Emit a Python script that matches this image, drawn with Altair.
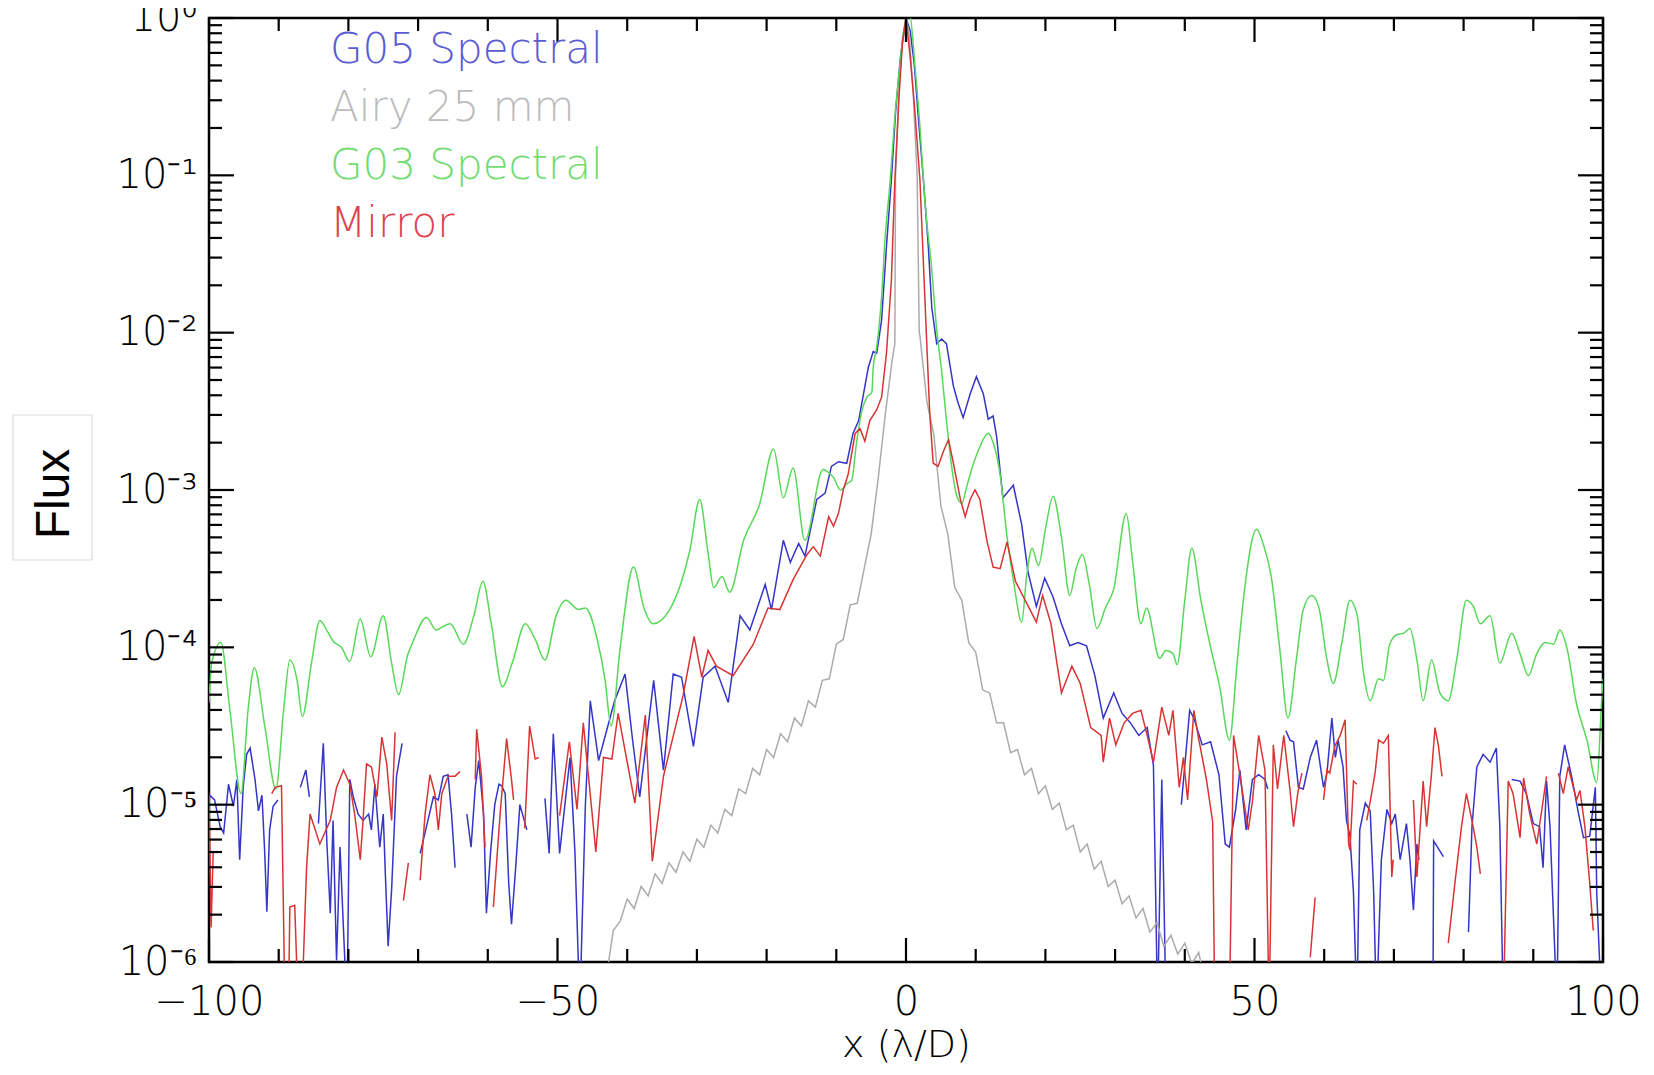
import altair as alt
import pandas as pd

W, H = 1394, 944

SERIES = ["G05 Spectral", "Airy 25 mm", "G03 Spectral", "Mirror"]
COLORS = ["#3535c8", "#ababab", "#58d858", "#d83434"]
TEXT_COLORS = ["#5b5bd2", "#bcbcbc", "#72dc72", "#dc4450"]

# readings: (x in lambda/D, log10 flux); None = gap in the curve
BLUE_PTS = [
    (-100.0, -5.0), (-99.9, -4.94), (-99.2, -4.97), (-98.4, -5.14), (-97.9, -5.18), (-97.2, -4.87),
    (-96.5, -5.01), (-96.0, -4.84), (-95.6, -5.35), (-95.1, -4.89), (-94.6, -4.68), (-94.1, -4.64),
    (-93.4, -4.84), (-92.9, -5.04), (-92.4, -4.94), (-92.0, -5.31), (-91.7, -5.68), (-91.3, -5.16),
    (-90.8, -5.01), (-90.1, -4.97), (-88.5, None), (-86.9, -4.89), (-86.1, -4.78), (-85.6, -4.95),
    (-85.0, None), (-84.3, -5.12), (-83.6, -4.61), (-83.1, -5.23), (-82.6, -5.69), (-82.2, -5.10),
    (-81.7, -5.99), (-81.2, -5.27), (-80.7, -5.80), (-80.2, -6.3), (-79.8, -4.84), (-79.3, -4.95),
    (-78.6, -5.06), (-77.9, -5.10), (-77.1, -5.06), (-76.7, -5.16), (-76.2, -4.87), (-75.5, -5.27),
    (-75.0, -5.06), (-74.7, -5.44), (-74.3, -5.90), (-73.8, -5.54), (-73.1, -4.82), (-72.3, -4.61),
    (-71.0, None), (-69.7, -5.31), (-68.8, -5.14), (-67.8, -4.95), (-67.1, -4.97), (-66.4, -4.82),
    (-65.7, -4.81), (-65.2, -5.06), (-64.7, -5.40), (-64.0, None), (-63.0, -5.06), (-62.4, -5.27),
    (-61.8, -4.89), (-61.3, -4.72), (-60.6, -5.06), (-60.2, -5.69), (-59.6, -5.3), (-59.0, -5.0),
    (-58.4, -4.87), (-58.0, -4.88), (-57.5, -4.93), (-57.0, -5.5), (-56.6, -5.76), (-56.0, -5.4),
    (-55.4, -5.0), (-54.4, -5.16), (-53.0, None), (-51.8, -4.96), (-51.2, -5.31), (-50.6, -4.55),
    (-49.7, -5.31), (-48.2, -4.70), (-47.5, -5.3), (-46.8, -6.3), (-46.0, -5.0), (-45.3, -4.34),
    (-44.1, -4.72), (-43.2, -4.57), (-41.8, -4.34), (-40.3, -4.17), (-39.2, -4.6), (-38.2, -4.95),
    (-36.2, -4.21), (-34.8, -4.78), (-33.4, -4.17), (-32.2, -4.19), (-30.5, -4.63), (-29.1, -4.19),
    (-27.4, -4.12), (-25.5, -4.35), (-23.8, -3.80), (-22.4, -3.89), (-20.2, -3.60), (-19.3, -3.76),
    (-17.6, -3.32), (-16.6, -3.46), (-15.4, -3.34), (-14.5, -3.42), (-12.8, -3.06), (-11.6, -3.02),
    (-10.7, -2.85), (-9.7, -2.82), (-8.5, -2.83), (-7.6, -2.64), (-6.8, -2.56), (-6.1, -2.39),
    (-5.4, -2.22), (-4.7, -2.12), (-4.2, -2.13), (-3.5, -1.92), (-2.8, -1.45), (-2.1, -1.03),
    (-1.5, -0.6), (-0.8, -0.25), (0.0, 0.0), (0.6, -0.08), (1.2, -0.3), (1.8, -0.65), (2.5, -1.03),
    (3.2, -1.45), (3.7, -1.84), (4.4, -2.07), (5.1, -2.04), (5.8, -2.07), (6.8, -2.34), (7.5, -2.45),
    (8.2, -2.54), (9.2, -2.39), (10.1, -2.28), (11.1, -2.39), (11.8, -2.55), (12.5, -2.53),
    (13.0, -2.66), (13.9, -3.05), (15.4, -2.97), (16.6, -3.22), (17.5, -3.52), (18.7, -3.74),
    (19.9, -3.56), (21.1, -3.68), (22.3, -3.85), (23.5, -3.99), (24.7, -3.97), (25.9, -3.99),
    (27.1, -4.18), (28.3, -4.45), (29.8, -4.29), (31.0, -4.42), (32.2, -4.48), (33.4, -4.56),
    (34.6, -4.51), (35.5, -4.75), (36.1, -6.3), (36.7, -4.84), (37.3, -6.3), (38.3, None),
    (39.5, -5.0), (40.7, -4.40), (41.3, -4.45), (42.5, -4.62), (43.7, -4.60), (44.9, -4.81),
    (45.8, -5.25), (46.4, -5.27), (47.3, -5.03), (47.9, -4.78), (48.8, -5.16), (49.7, -4.84),
    (50.6, -4.81), (51.5, -4.84), (51.9, -4.9), (53.0, None), (54.5, -4.53), (55.1, -4.59),
    (55.6, -4.6), (56.3, -4.89), (57.0, -4.90), (58.0, -4.70), (58.9, -4.59), (59.9, -4.89),
    (60.4, -4.80), (61.1, -4.45), (61.6, -4.70), (62.0, -4.59), (62.7, -4.76), (63.2, -5.10),
    (63.7, -5.20), (64.2, -5.56), (64.7, -6.3), (65.1, -5.16), (65.9, -4.99), (66.6, -5.04),
    (67.1, -5.56), (67.5, -6.3), (68.2, -5.35), (69.0, -5.03), (69.7, -5.12), (70.2, -5.06),
    (70.9, -5.35), (71.8, -5.12), (72.3, -5.35), (72.8, -5.67), (73.3, -5.25), (73.6, -5.35),
    (74.5, None), (75.6, -6.3), (75.7, -5.23), (77.1, -5.33), (78.0, None), (80.7, -5.81),
    (81.2, -5.14), (81.9, -4.76), (82.8, -4.68), (83.8, -4.73), (84.7, -4.64), (85.2, -5.14),
    (85.7, -6.3), (86.2, None), (86.9, -4.84), (88.1, -4.85), (89.0, -4.93), (90.0, -5.12),
    (90.9, -5.14), (91.4, -5.4), (91.9, -4.85), (92.4, -5.14), (93.4, -6.3), (93.8, -4.82),
    (94.5, -4.62), (95.5, -4.82), (96.5, -5.06), (97.2, -5.21), (98.1, -5.2), (98.9, -4.89),
    (99.1, -5.56), (99.8, -6.3),
]

GRAY_PTS = [
    (-43, -6.10), (-42, -5.80), (-41, -5.74), (-40, -5.60), (-39, -5.66), (-38, -5.52), (-37, -5.58),
    (-36, -5.44), (-35, -5.50), (-34, -5.37), (-33, -5.43), (-32, -5.30), (-31, -5.36), (-30, -5.22),
    (-29, -5.27), (-28, -5.13), (-27, -5.18), (-26, -5.03), (-25, -5.07), (-24, -4.90), (-23, -4.93),
    (-22, -4.77), (-21, -4.81), (-20, -4.65), (-19, -4.70), (-18, -4.55), (-17, -4.60), (-16, -4.45),
    (-15, -4.50), (-14, -4.34), (-13, -4.38), (-12, -4.21), (-11, -4.20), (-10, -3.98), (-9, -3.95),
    (-8, -3.73), (-7, -3.72), (-6, -3.50), (-5, -3.28), (-4, -2.93), (-3, -2.53), (-2, -2.18),
    (-1.6, -2.07), (-1.5, -1.0), (-1.0, -0.45), (-0.5, -0.12), (0.0, 0.0), (0.5, -0.12),
    (1.0, -0.45), (1.6, -1.0), (1.9, -2.0),
    (2, -2.02), (3, -2.44), (4, -2.65), (5, -3.10), (6, -3.28), (7, -3.62), (8, -3.70), (9, -3.97),
    (10, -4.03), (11, -4.27), (12, -4.29), (13, -4.48), (14, -4.48), (15, -4.67), (16, -4.65),
    (17, -4.81), (18, -4.77), (19, -4.93), (20, -4.88), (21, -5.03), (22, -4.99), (23, -5.16),
    (24, -5.13), (25, -5.30), (26, -5.25), (27, -5.41), (28, -5.36), (29, -5.52), (30, -5.48),
    (31, -5.63), (32, -5.58), (33, -5.72), (34, -5.66), (35, -5.81), (36, -5.75), (37, -5.90),
    (38, -5.83), (39, -5.95), (40, -5.88), (41, -6.01), (42, -5.94), (43, -6.15),
]

GREEN_PTS = [
    (-100.0, -4.35), (-99.6, -4.1), (-98.3, -3.97), (-97.0, -4.4), (-95.4, -4.93), (-94.4, -4.4),
    (-93.5, -4.13), (-92.0, -4.5), (-90.4, -4.9), (-89.3, -4.4), (-88.4, -4.08), (-87.4, -4.2),
    (-86.6, -4.44), (-85.3, -4.1), (-84.1, -3.83), (-83.0, -3.9), (-82.2, -3.96), (-81.0, -4.0),
    (-79.8, -4.09), (-78.3, -3.82), (-76.8, -4.06), (-75.0, -3.80), (-73.8, -4.1), (-72.8, -4.3),
    (-71.5, -4.05), (-70.7, -3.96), (-68.8, -3.81), (-67.4, -3.89), (-66.5, -3.87), (-65.4, -3.85),
    (-63.5, -3.98), (-62.0, -3.8), (-60.7, -3.58), (-59.5, -3.85), (-57.9, -4.25), (-56.5, -4.1),
    (-54.6, -3.85), (-53.2, -3.95), (-51.8, -4.08), (-50.2, -3.8), (-48.8, -3.70), (-47.0, -3.76),
    (-46.0, -3.75), (-44.3, -3.95), (-43.2, -4.2), (-42.3, -4.5), (-41.0, -4.0), (-39.1, -3.49),
    (-37.6, -3.75), (-36.3, -3.85), (-33.9, -3.76), (-31.0, -3.38), (-29.6, -3.06), (-28.4, -3.4),
    (-27.6, -3.62), (-26.4, -3.55), (-25.3, -3.65), (-23.3, -3.32), (-21.0, -3.09), (-19.0, -2.74),
    (-17.6, -3.05), (-16.2, -2.86), (-14.5, -3.32), (-11.9, -2.87), (-11.4, -2.88), (-10.4, -2.92),
    (-9.4, -3.0), (-8.5, -2.96), (-7.8, -2.94), (-7.1, -2.70), (-6.4, -2.51), (-5.6, -2.41),
    (-4.9, -2.38), (-4.7, -2.22), (-4.2, -2.09), (-3.5, -1.77), (-3.0, -1.40), (-2.3, -1.05),
    (-1.6, -0.63), (-0.9, -0.31), (-0.3, -0.08), (0.5, 0.03), (1.3, -0.31), (2.0, -0.69),
    (2.7, -1.16), (3.7, -1.6), (4.4, -1.98), (5.1, -2.24), (5.8, -2.556), (6.55, -2.85),
    (7.3, -3.04), (8.0, -3.085), (8.7, -2.98), (9.7, -2.83), (10.6, -2.725), (11.8, -2.64),
    (12.5, -2.70), (13.5, -2.9), (14.5, -3.3), (15.5, -3.6), (16.6, -3.84), (17.3, -3.55),
    (18.1, -3.37), (19.0, -3.48), (20.0, -3.25), (21.1, -3.04), (22.3, -3.3), (23.5, -3.67),
    (24.4, -3.5), (25.3, -3.41), (26.3, -3.6), (27.4, -3.88), (28.6, -3.75), (29.8, -3.63),
    (31.6, -3.15), (32.5, -3.45), (33.7, -3.85), (34.5, -3.75), (36.4, -4.07), (37.3, -4.02),
    (38.3, -4.04), (38.9, -4.11), (40.0, -3.7), (41.0, -3.37), (42.3, -3.7), (43.7, -4.0),
    (45.0, -4.25), (46.4, -4.59), (47.5, -4.1), (48.5, -3.66), (50.3, -3.25), (51.3, -3.35),
    (52.4, -3.55), (53.6, -4.0), (54.8, -4.45), (56.0, -4.08), (57.0, -3.76), (58.2, -3.67),
    (59.2, -3.74), (60.4, -4.08), (61.3, -4.23), (62.5, -3.98), (63.7, -3.70), (64.7, -3.79),
    (65.6, -4.15), (66.6, -4.34), (67.8, -4.20), (68.5, -4.21), (69.4, -3.98), (70.4, -3.92),
    (71.4, -3.91), (72.3, -3.88), (73.3, -4.08), (74.2, -4.34), (75.4, -4.08), (76.6, -4.29),
    (77.8, -4.34), (79.0, -4.08), (80.4, -3.70), (81.4, -3.74), (82.4, -3.85), (83.8, -3.80),
    (85.2, -4.10), (86.9, -3.91), (88.1, -4.04), (89.3, -4.18), (90.5, -4.04), (91.7, -3.97),
    (92.9, -3.98), (93.8, -3.89), (94.8, -4.0), (96.2, -4.36), (97.7, -4.59), (99.1, -4.86),
    (99.8, -4.34), (100.0, -4.2),
]

RED_PTS = [
    (-100.0, -4.95), (-99.7, -5.78), (-99.4, -5.3), (-99.0, None), (-91.0, -4.93), (-90.5, -4.89),
    (-89.6, -4.88), (-89.1, -6.3), (-88.8, None), (-88.6, -6.3), (-88.4, -5.65), (-87.7, -5.64),
    (-87.2, -6.3), (-86.7, -6.3), (-86.0, -5.40), (-85.5, -5.06), (-84.1, -5.25), (-82.6, -5.10),
    (-81.7, -4.89), (-80.7, -4.78), (-79.8, -4.87), (-79.1, -5.06), (-78.3, -5.35), (-77.9, -5.10),
    (-77.4, -4.74), (-76.7, -4.76), (-75.9, -4.95), (-75.2, -4.57), (-74.5, -4.74), (-73.8, -5.10),
    (-73.3, -4.54), (-72.8, None), (-72.1, -5.61), (-71.4, -5.37), (-70.5, None), (-69.7, -5.48),
    (-69.0, -5.06), (-68.3, -4.81), (-67.6, -4.93), (-67.1, -5.16), (-66.6, -4.93), (-65.7, -4.82),
    (-64.7, -4.82), (-64.0, -4.79), (-63.0, None), (-61.8, -4.84), (-61.6, -4.52), (-60.9, -4.82),
    (-60.4, -5.27), (-59.8, None), (-59.2, -5.65), (-58.2, -5.04), (-57.3, -4.58), (-56.6, -4.84),
    (-56.3, -4.97), (-55.5, None), (-54.7, -5.15), (-54.0, -4.5), (-53.2, -4.71), (-52.7, -4.70),
    (-51.0, None), (-49.7, -5.07), (-48.3, -4.6), (-47.2, -5.03), (-46.3, -4.48), (-44.5, -5.30),
    (-43.4, -4.70), (-42.2, -4.71), (-41.3, -4.42), (-38.9, -4.99), (-37.4, -4.43), (-36.4, -5.36),
    (-34.8, -4.82), (-32.0, -4.31), (-30.4, -3.93), (-29.3, -4.19), (-28.4, -4.02), (-27.2, -4.12),
    (-24.8, -4.18), (-21.9, -3.98), (-19.8, -3.75), (-18.1, -3.76), (-16.2, -3.57), (-14.2, -3.41),
    (-13.3, -3.36), (-12.3, -3.42), (-11.1, -3.17), (-10.4, -3.23), (-9.7, -3.15), (-9.0, -3.0),
    (-8.3, -2.9), (-7.3, -2.64), (-6.6, -2.61), (-5.9, -2.69), (-5.2, -2.56), (-4.2, -2.49),
    (-3.5, -2.41), (-2.8, -2.13), (-2.1, -1.67), (-1.6, -1.03), (-1.0, -0.5), (-0.5, -0.15),
    (0.0, 0.0), (0.6, -0.25), (1.2, -0.55), (2.0, -1.03), (2.5, -1.56), (3.0, -2.09), (3.4, -2.51),
    (3.9, -2.83), (4.6, -2.85), (5.4, -2.75), (6.1, -2.68), (6.8, -2.83), (7.8, -3.06), (8.5, -3.17),
    (9.2, -3.06), (9.9, -3.0), (10.6, -3.06), (11.6, -3.32), (12.5, -3.49), (13.5, -3.5),
    (14.5, -3.33), (15.7, -3.58), (17.2, -3.71), (18.7, -3.84), (19.6, -3.67), (20.8, -3.85),
    (22.3, -4.29), (23.8, -4.12), (25.0, -4.23), (26.5, -4.51), (28.0, -4.56), (28.3, -4.73),
    (29.2, -4.45), (30.1, -4.62), (31.3, -4.48), (32.5, -4.42), (33.7, -4.40), (34.6, -4.56),
    (35.5, -4.73), (36.7, -4.38), (37.7, -4.56), (38.3, -4.40), (39.2, -4.89), (39.8, -4.70),
    (40.4, -4.97), (41.3, -4.40), (41.9, -4.56), (43.1, -4.84), (44.0, -5.11), (44.3, -6.3),
    (45.4, None), (46.4, -6.3), (47.0, -4.56), (47.9, -4.81), (49.1, -5.16), (49.7, -4.98),
    (50.6, -4.56), (51.5, -4.78), (52.1, -6.3), (52.7, -4.62), (53.3, -4.9), (54.2, -4.56),
    (55.1, -4.91), (55.6, -5.14), (56.2, -4.93), (56.8, -4.8), (57.4, None), (58.0, -5.97),
    (58.7, -5.59), (59.3, None), (59.9, -4.97), (60.4, -4.78), (60.8, -4.8), (61.5, -4.63),
    (62.3, -4.56), (63.0, -4.46), (63.5, -5.25), (63.7, -5.29), (64.2, -4.85), (64.7, -4.87),
    (65.4, None), (66.1, -5.1), (66.8, -4.93), (67.3, -4.8), (67.8, -4.59), (68.5, -4.61),
    (69.2, -4.56), (69.7, -5.46), (69.9, -5.35), (71.0, None), (72.8, -4.97), (73.3, -5.46),
    (74.2, -4.85), (74.7, -5.14), (75.4, -4.8), (75.9, -4.51), (76.4, -4.63), (76.9, -4.82),
    (77.3, None), (77.8, -5.88), (78.8, -5.48), (79.7, -5.14), (80.4, -4.93), (81.2, -5.1),
    (81.9, -5.27), (82.4, -5.44), (83.5, None), (85.7, -6.3), (86.4, -4.85), (87.1, -4.93),
    (88.1, -5.21), (88.6, -4.83), (89.5, -5.06), (90.5, -5.25), (91.2, -5.04), (91.9, -4.82),
    (92.8, None), (93.6, -4.8), (94.3, -4.93), (95.0, -4.76), (96.2, -4.97), (96.7, -4.91),
    (97.4, -5.14), (98.1, -5.5), (98.6, -5.8),
]

X_MAJOR = [-100, -50, 0, 50, 100]
X_MINOR = [-90, -80, -70, -60, -40, -30, -20, -10, 10, 20, 30, 40, 60, 70, 80, 90]
Y_MAJOR = [1e-6, 1e-5, 1e-4, 1e-3, 1e-2, 1e-1, 1e0]
Y_MINOR = [k * 10.0 ** d for d in range(-6, 0) for k in range(2, 10)]
Y_LABELS = ["10⁻⁶", "10⁻⁵", "10⁻⁴", "10⁻³", "10⁻²", "10⁻¹", "10⁰"]


def series_frame(name, pts):
    return pd.DataFrame({
        "x": [p[0] for p in pts],
        "flux": [None if p[1] is None else 10.0 ** p[1] for p in pts],
        "series": name,
        "order": list(range(len(pts))),
    })


xscale = alt.Scale(domain=[-100, 100], nice=False, zero=False)
yscale = alt.Scale(type="log", domain=[1e-6, 1], nice=False)

label_expr = "[" + ",".join("'%s'" % s for s in Y_LABELS) + "][round(log(datum.value)/LN10)+6]"

xaxis = alt.Axis(title="x (λ/D)", values=X_MAJOR, format="d", ticks=False, domain=False, grid=False,
                 labelFont="DejaVu Sans", labelFontSize=40, labelFontWeight=300, labelColor="black",
                 labelPadding=20, labelFlush=False, labelOverlap=False, labelBound=False,
                 titleFont="DejaVu Sans", titleFontSize=38, titleFontWeight=300,
                 titleColor="black", titlePadding=4)
yaxis = alt.Axis(title=None, values=Y_MAJOR, labelExpr=label_expr, ticks=False, domain=False, grid=False,
                 labelFont="DejaVu Sans", labelFontSize=40, labelFontWeight=300, labelColor="black",
                 labelPadding=12, labelFlush=False, labelOverlap=False, labelBound=False)

color_scale = alt.Scale(domain=SERIES, range=COLORS)

layers = []
for name, pts in zip(SERIES, [BLUE_PTS, GRAY_PTS, GREEN_PTS, RED_PTS]):
    interp = "monotone" if name == "G03 Spectral" else "linear"
    layers.append(
        alt.Chart(series_frame(name, pts)).mark_line(strokeWidth=1.5, clip=True, interpolate=interp).encode(
            x=alt.X("x:Q", scale=xscale, axis=xaxis),
            y=alt.Y("flux:Q", scale=yscale, axis=yaxis),
            color=alt.Color("series:N", scale=color_scale, legend=None),
            order="order:Q",
        )
    )


# inward tick marks on all four sides
def yticks(vals, length):
    base = alt.Chart(pd.DataFrame({"v": vals})).mark_rule(color="black", strokeWidth=2.2)
    left = base.encode(y=alt.Y("v:Q", scale=yscale, axis=yaxis), x=alt.value(0), x2=alt.value(length))
    right = base.encode(y=alt.Y("v:Q", scale=yscale, axis=yaxis), x=alt.value(W), x2=alt.value(W - length))
    return [left, right]


def xticks(vals, length):
    base = alt.Chart(pd.DataFrame({"u": vals})).mark_rule(color="black", strokeWidth=2.2)
    bottom = base.encode(x=alt.X("u:Q", scale=xscale, axis=xaxis), y=alt.value(H), y2=alt.value(H - length))
    top = base.encode(x=alt.X("u:Q", scale=xscale, axis=xaxis), y=alt.value(0), y2=alt.value(length))
    return [bottom, top]


layers += yticks(Y_MAJOR, 25) + yticks(Y_MINOR, 13) + xticks(X_MAJOR, 24) + xticks(X_MINOR, 13)

# coloured text legend
for i, (name, col) in enumerate(zip(SERIES, TEXT_COLORS)):
    layers.append(
        alt.Chart(pd.DataFrame({"label": [name]})).mark_text(
            align="left", baseline="middle", font="DejaVu Sans", fontSize=42, fontWeight=300, color=col
        ).encode(x=alt.value(121), y=alt.value(32 + 58 * i), text="label:N")
    )

# boxed y title
title_df = pd.DataFrame({"t": ["Flux"]})
layers.append(
    alt.Chart(title_df).mark_rect(fill="white", stroke="#dcdcdc", strokeWidth=1.2).encode(
        x=alt.value(-196), x2=alt.value(-117), y=alt.value(397), y2=alt.value(542)
    )
)
layers.append(
    alt.Chart(title_df).mark_text(angle=270, font="Liberation Sans", fontSize=48,
                                  align="center", baseline="middle", color="black").encode(
        x=alt.value(-154), y=alt.value(476), text="t:N"
    )
)

chart = alt.layer(*layers).properties(
    width=W, height=H,
    autosize=alt.AutoSizeParams(type="none"),
    padding={"left": 201, "top": 10, "right": 40, "bottom": 108},
).configure_view(stroke="black", strokeWidth=2.5)

chart.save("out.html", embed_options={"renderer": "svg", "actions": False})
